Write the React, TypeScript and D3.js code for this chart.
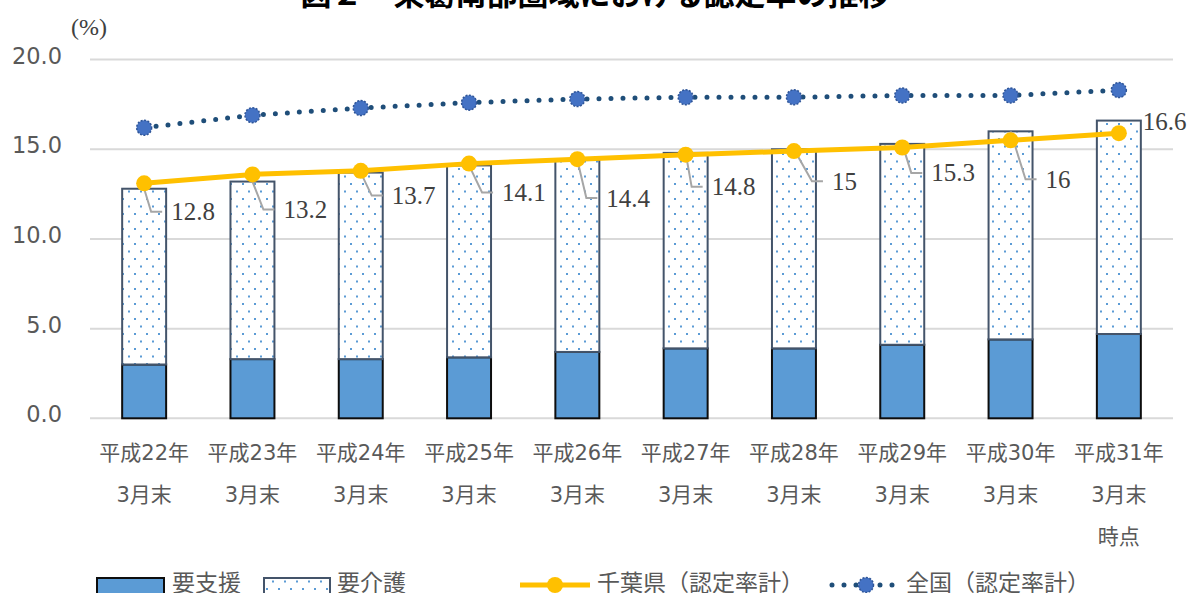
import React from 'react'
import * as d3 from 'd3'

const categories = ['平成22年', '平成23年', '平成24年', '平成25年', '平成26年', '平成27年', '平成28年', '平成29年', '平成30年', '平成31年']
const subLabels = ['3月末', '3月末', '3月末', '3月末', '3月末', '3月末', '3月末', '3月末', '3月末', '3月末']
const support = [3.0, 3.3, 3.3, 3.4, 3.7, 3.9, 3.9, 4.1, 4.4, 4.7]
const care = [9.8, 9.9, 10.4, 10.7, 10.7, 10.9, 11.1, 11.2, 11.6, 11.9]
const totalLabels = ['12.8', '13.2', '13.7', '14.1', '14.4', '14.8', '15', '15.3', '16', '16.6']
const chiba = [13.1, 13.6, 13.8, 14.2, 14.45, 14.7, 14.9, 15.1, 15.5, 15.9]
const national = [16.2, 16.9, 17.3, 17.6, 17.8, 17.9, 17.9, 18.0, 18.0, 18.3]
const yTicks = [0, 5, 10, 15, 20]

// label placement relative to bar centre / bar top (hand placed in the original)
const labelOffsets = [[27, 23], [31, 28], [31, 23], [33, 27], [29, 38], [26, 34], [38, 32], [29, 29], [35, 48], [24, 1]]

const W = 1191
const H = 593
const sansFont = '"DejaVu Sans", "Noto Sans CJK JP", sans-serif'
const cjkFont = '"Noto Sans CJK JP", sans-serif'
const serifFont = '"Liberation Serif", "DejaVu Serif", serif'

export default function App() {
  const x = d3.scaleBand().domain(categories).range([90, 1173]).paddingInner(0.594).paddingOuter(0.297)
  const y = d3.scaleLinear().domain([0, 20]).range([418.3, 59.6])
  const cx = (i: number) => (x(categories[i]) as number) + x.bandwidth() / 2

  const line = d3.line<number>().x((d, i) => cx(i)).y(d => y(d))

  return (
    <div style={{ position: 'absolute', left: 0, top: 0 }}>
      <svg width={W} height={H} style={{ display: 'block', background: '#fff' }}>
        <defs>
          <pattern id="dots" width="12" height="15" patternUnits="userSpaceOnUse">
            <rect width="12" height="15" fill="#fff" />
            <rect x="2" y="3" width="2" height="2" fill="#5b9bd5" />
            <rect x="8" y="10.5" width="2" height="2" fill="#5b9bd5" />
          </pattern>
        </defs>

        {/* title, cut off at the top as in the original */}
        <text x={595} y={5} textAnchor="middle" fontFamily={cjkFont} fontWeight={700} fontSize={31} fill="#000">
          図２　東葛南部圏域における認定率の推移
        </text>

        <text x={89} y={35} textAnchor="middle" fontFamily={serifFont} fontSize={24} fill="#404040">(%)</text>

        {/* grid + y axis */}
        {yTicks.map(t => (
          <g key={t}>
            <line x1={90} x2={1173} y1={y(t)} y2={y(t)} stroke="#d9d9d9" strokeWidth={2} />
            <text x={62} y={y(t) - 4} textAnchor="end" dominantBaseline="central" fontFamily={sansFont} fontSize={22.5} fill="#595959">
              {t.toFixed(1)}
            </text>
          </g>
        ))}

        {/* stacked bars */}
        {categories.map((c, i) => {
          const x0 = x(c) as number
          const bw = x.bandwidth()
          return (
            <g key={c}>
              <rect x={x0} y={y(support[i])} width={bw} height={y(0) - y(support[i])} fill="#5b9bd5" stroke="#0d0d0d" strokeWidth={2} />
              <rect x={x0} y={y(support[i] + care[i])} width={bw} height={y(support[i]) - y(support[i] + care[i])} fill="url(#dots)" stroke="#44546a" strokeWidth={2} />
            </g>
          )
        })}

        {/* leader lines */}
        {categories.map((c, i) => {
          if (i === categories.length - 1) return null
          const top = y(support[i] + care[i])
          const lx = cx(i) + labelOffsets[i][0]
          const ly = top + labelOffsets[i][1]
          return (
            <polyline key={c} points={`${cx(i)},${top} ${lx - 20},${ly} ${lx - 9},${ly}`} fill="none" stroke="#a6a6a6" strokeWidth={2} />
          )
        })}

        {/* national line */}
        <path d={line(national) as string} fill="none" stroke="#1f4e79" strokeWidth={5} strokeDasharray="0 12" strokeLinecap="round" />
        {national.map((v, i) => (
          <circle key={i} cx={cx(i)} cy={y(v)} r={7.5} fill="#4472c4" stroke="#2f5597" strokeWidth={1.5} strokeDasharray="2 1.5" />
        ))}

        {/* chiba line */}
        <path d={line(chiba) as string} fill="none" stroke="#ffc000" strokeWidth={5} />
        {chiba.map((v, i) => (
          <circle key={i} cx={cx(i)} cy={y(v)} r={8} fill="#ffc000" />
        ))}

        {/* data labels */}
        {totalLabels.map((t, i) => {
          const top = y(support[i] + care[i])
          return (
            <text key={i} x={cx(i) + labelOffsets[i][0]} y={top + labelOffsets[i][1]} dominantBaseline="central" fontFamily={serifFont} fontSize={25} fill="#404040">
              {t}
            </text>
          )
        })}

        {/* x axis labels */}
        {categories.map((c, i) => (
          <g key={c} fontFamily={sansFont} fontSize={21} fill="#595959" textAnchor="middle">
            <text x={cx(i)} y={453} dominantBaseline="central">{c}</text>
            <text x={cx(i)} y={495} dominantBaseline="central">{subLabels[i]}</text>
            {i === categories.length - 1 && <text x={cx(i)} y={537} dominantBaseline="central">時点</text>}
          </g>
        ))}

        {/* legend */}
        <g fontFamily={cjkFont} fontSize={23} fill="#595959">
          <rect x={97} y={578} width={67} height={30} fill="#5b9bd5" stroke="#0d0d0d" strokeWidth={2} />
          <text x={172} y={581} dominantBaseline="central">要支援</text>
          <rect x={264} y={578} width={66} height={30} fill="url(#dots)" stroke="#44546a" strokeWidth={2} />
          <text x={337} y={581} dominantBaseline="central">要介護</text>
          <line x1={520} x2={590} y1={585} y2={585} stroke="#ffc000" strokeWidth={5} />
          <circle cx={555} cy={585} r={8} fill="#ffc000" />
          <text x={597} y={581} dominantBaseline="central">千葉県（認定率計）</text>
          <line x1={832} x2={896} y1={585} y2={585} stroke="#1f4e79" strokeWidth={5} strokeDasharray="0 12" strokeLinecap="round" />
          <circle cx={866} cy={585} r={7.5} fill="#4472c4" stroke="#2f5597" strokeWidth={1.5} strokeDasharray="2 1.5" />
          <text x={906} y={581} dominantBaseline="central">全国（認定率計）</text>
        </g>
      </svg>
    </div>
  )
}
